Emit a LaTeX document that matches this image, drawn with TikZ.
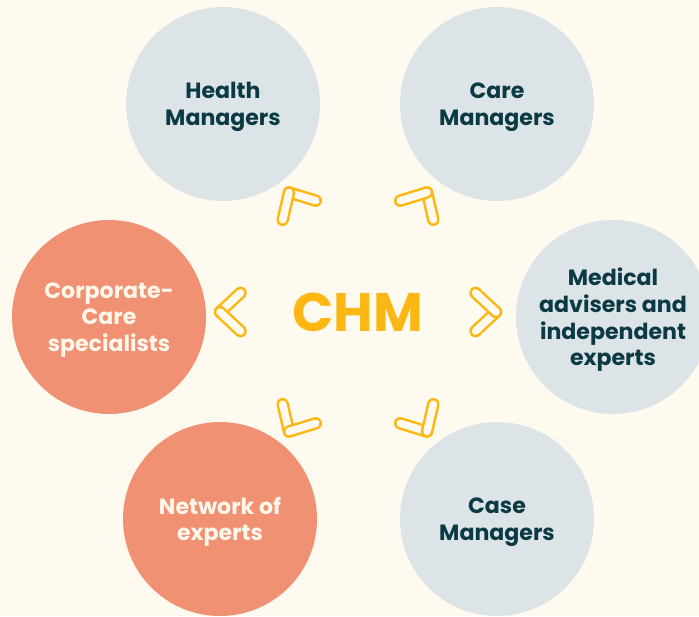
\documentclass[tikz,border=0pt]{standalone}
\usepackage{fontspec}
\setmainfont{Poppins}
\usepackage{xcolor}
\usetikzlibrary{calc}
\definecolor{bgcream}{HTML}{FFFAEF}
\definecolor{paleblue}{HTML}{DCE4E8}
\definecolor{salmon}{HTML}{F19174}
\definecolor{chmyellow}{HTML}{FDB714}
\definecolor{darkteal}{HTML}{0C3A44}
\definecolor{lighttext}{HTML}{FFF7EA}

\begin{document}
\begin{tikzpicture}[x=0.035cm,y=0.035cm,
                    main node/.style={circle,inner sep=0pt,minimum size=6.79cm,align=center,
                      text depth=0pt,font=\fontsize{22}{26.5}\selectfont\bfseries},
                    blue node/.style={main node,fill=paleblue,text=darkteal},
                    red node/.style={main node,fill=salmon,text=lighttext},
                    chevron/.style={draw=chmyellow,line width=2.5pt,double=bgcream,
                      double distance=7.5pt,line cap=round}]

%BACKGROUND
  \fill[bgcream] (0,0) rectangle (699,616);
  \useasboundingbox (0,0) rectangle (699,616);

%DRAWING CIRCLES
  \node[blue node] (health) at (223,512) {Health\\Managers};
  \node[blue node] (care) at (497,512) {Care\\Managers};
  \node[blue node] (medical) at (613,299) {Medical\\advisers and\\independent\\experts};
  \node[red node] (corporate) at (109,299) {Corporate-\\Care\\specialists};
  \node[red node] (network) at (220,97) {Network of\\experts};
  \node[blue node] (case) at (497,97) {Case\\Managers};

%DRAWING CENTER
  \node[font=\fontsize{54}{54}\selectfont\bfseries,text=chmyellow,text depth=0pt] (chm) at (358,304) {CHM};

%DRAWING CHEVRONS
  \foreach \a in {0,60,...,300}{
    \coordinate (tip\a) at ($(chm)+(\a:138)$);
    \draw[chevron] (tip\a) -- ++(\a-137:28);
    \draw[chevron] (tip\a) -- ++(\a+137:28);
  }

\end{tikzpicture}
\end{document}
